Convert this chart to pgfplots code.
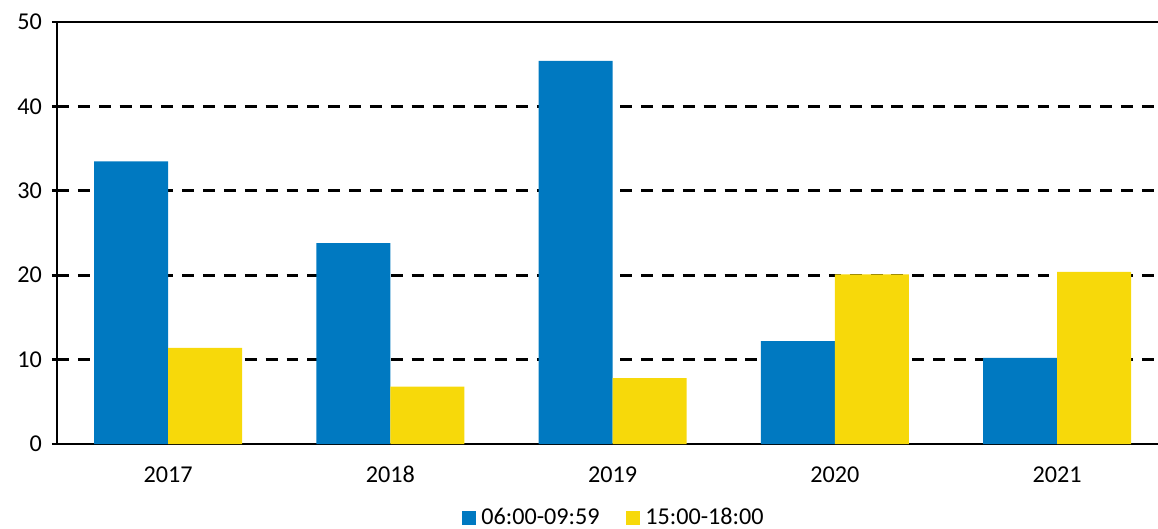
\documentclass[border=0pt]{standalone}
\usepackage{pgfplots}
\pgfplotsset{compat=1.18}
\usepackage{fontspec}
\setmainfont{Carlito}
\definecolor{barblue}{HTML}{0079C1}
\definecolor{baryellow}{HTML}{F7D90A}
\begin{document}
\fontsize{9.5}{11}\selectfont
\begin{tikzpicture}
\begin{axis}[
    name=main,
    at={(0,0)}, anchor=south west,
    scale only axis,
    width=15.35cm, height=5.83cm,
    ybar=0pt, bar width=0.333,
    xmin=-0.5, xmax=4.5,
    ymin=0, ymax=50,
    xtick=data,
    xticklabels={2017,2018,2019,2020,2021},
    ytick={0,10,20,30,40},
    extra y ticks={50},
    extra y tick style={grid=major, major grid style={solid, black, line width=1.1pt}},
    axis x line*=bottom, axis y line*=left,
    axis line style={black, line width=1.1pt, -},
    x tick style={draw=none},
    y tick style={black, line width=1.1pt},
    tick align=outside, major tick length=0.07cm,
    ymajorgrids,
    major grid style={black, line width=1.1pt, dash pattern=on 4.7pt off 3.5pt},
    xticklabel style={yshift=-0.12cm},
    yticklabel style={xshift=-0.02cm},
    /pgf/number format/assume math mode=true,
    legend style={at={(0.5027,-0.175)}, anchor=center, draw=none,
        legend columns=2, /tikz/every even column/.append style={column sep=0.3cm}},
    legend image code/.code={\fill[#1] (0cm,-0.095cm) rectangle (0.19cm,0.095cm);},
]
\addplot[fill=barblue, draw=none] coordinates {
    (0,33.5) (1,23.8) (2,45.4) (3,12.2) (4,10.2)
};
\addplot[fill=baryellow, draw=none] coordinates {
    (0,11.4) (1,6.8) (2,7.8) (3,20.1) (4,20.4)
};
\legend{06:00-09:59, 15:00-18:00}
\end{axis}
\pgfresetboundingbox
\path[use as bounding box] (-0.788,-1.174) rectangle (15.21,6.134);
\end{tikzpicture}
\end{document}
